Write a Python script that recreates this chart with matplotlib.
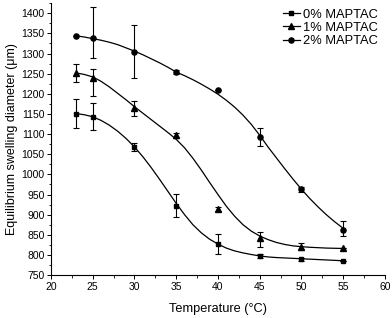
"""Equilibrium swelling diameter vs temperature for MAPTAC hydrogels."""
from __future__ import annotations

import matplotlib

matplotlib.use("Agg")
import matplotlib.pyplot as plt
from matplotlib.ticker import MultipleLocator

plt.rcParams["font.family"] = ["Liberation Sans", "DejaVu Sans"]

# measured points
TEMPS = [23, 25, 30, 35, 40, 45, 50, 55]
D0 = [1151, 1143, 1068, 922, 827, 797, 789, 785]
D1 = [1252, 1240, 1166, 1097, 913, 843, 820, 816]
D2 = [1343, 1338, 1305, 1254, 1209, 1093, 963, 863]

# error bars (lower, upper)
E0_LO = [36, 34, 11, 29, 25, 5, 4, 0]
E0_HI = [36, 34, 11, 29, 25, 5, 4, 0]
E1_LO = [23, 46, 21, 6, 5, 23, 9, 0]
E1_HI = [22, 21, 17, 6, 5, 14, 9, 0]
E2_LO = [0, 49, 65, 5, 0, 23, 6, 17]
E2_HI = [0, 78, 66, 5, 0, 23, 6, 20]

# fitted curves, every 1 degree (23..55)
FIT_T = list(range(23, 56))
FIT0 = [1151, 1148, 1143, 1134, 1122, 1107, 1089, 1068, 1044, 1017, 988,
        958, 928, 900, 875, 855, 839, 827, 817, 810, 805, 801, 797.5,
        795, 793.5, 792.5, 791.5, 790.5, 789.5, 788.5, 787.5, 786.5, 785.5]
FIT1 = [1252, 1248, 1242, 1231, 1217, 1201, 1185, 1168, 1152, 1136, 1120,
        1104, 1087, 1066, 1040, 1011, 980, 950, 921, 896, 875, 859, 847,
        838, 831, 826, 822.5, 820.5, 819, 818, 817, 816.5, 816]
FIT2 = [1344, 1341, 1337, 1333, 1328, 1322, 1314, 1306, 1297, 1287, 1277,
        1266, 1254, 1245, 1235, 1224, 1212, 1199, 1184, 1167, 1147, 1124,
        1097, 1068, 1041, 1014, 988, 963, 940, 919, 899.5, 882, 866]

LABELS = ["0% MAPTAC", "1% MAPTAC", "2% MAPTAC"]


def main() -> None:
    fig = plt.figure(figsize=(3.92, 3.18), dpi=100)
    ax = fig.add_axes([0.130, 0.135, 0.852, 0.855])

    series = [
        (D0, E0_LO, E0_HI, FIT0, "s", 3.5),
        (D1, E1_LO, E1_HI, FIT1, "^", 4.2),
        (D2, E2_LO, E2_HI, FIT2, "o", 3.7),
    ]
    handles = []
    for (ys, lo, hi, fit, marker, ms), label in zip(series, LABELS):
        ax.plot(FIT_T, fit, color="black", lw=0.9, zorder=2,
                solid_joinstyle="round")
        ax.errorbar(TEMPS, ys, yerr=[lo, hi], fmt="none", ecolor="black",
                    elinewidth=0.8, capsize=2.0, capthick=0.8, zorder=3)
        ax.plot(TEMPS, ys, ls="none", marker=marker, ms=ms, color="black", zorder=4)
        h, = ax.plot([], [], color="black", lw=0.9, marker=marker, ms=ms)
        handles.append(h)

    ax.set_xlim(20, 60)
    ax.set_ylim(750, 1425)
    ax.xaxis.set_major_locator(MultipleLocator(5))
    ax.xaxis.set_minor_locator(MultipleLocator(2.5))
    ax.yaxis.set_minor_locator(MultipleLocator(25))
    ax.set_yticks(range(750, 1401, 50))

    for side in ("top", "right"):
        ax.spines[side].set_visible(False)
    for side in ("left", "bottom"):
        ax.spines[side].set_linewidth(0.8)
    ax.tick_params(which="major", direction="out", length=3.2, width=0.7,
                   labelsize=7.5, pad=1.5)
    ax.tick_params(which="minor", direction="out", length=1.8, width=0.6)

    ax.set_xlabel("Temperature (°C)", fontsize=9.2, labelpad=8.5)
    ax.set_ylabel("Equilibrium swelling diameter (μm)", fontsize=9, labelpad=2)

    ax.legend(handles, LABELS, loc="upper left", bbox_to_anchor=(0.695, 0.98),
              frameon=False, fontsize=9.3, borderpad=0, handlelength=1.3,
              handletextpad=0.25, labelspacing=0.1, borderaxespad=0)

    fig.savefig("out.png", dpi=100)
    plt.close(fig)


if __name__ == "__main__":
    main()
